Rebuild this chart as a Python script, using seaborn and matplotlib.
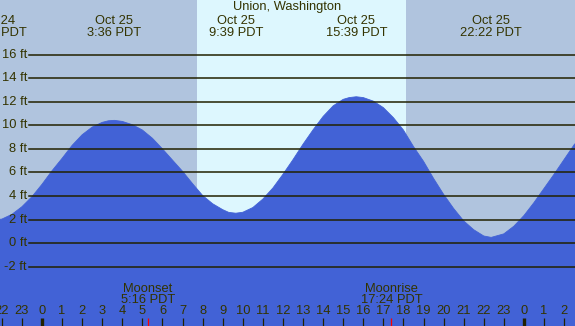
import matplotlib
matplotlib.use("Agg")
import matplotlib.pyplot as plt
import seaborn as sns
import pandas as pd

# ---- data ----
hours = [-3, -2.5, -2.3, -2, -1.5, -1, -0.5, 0, 0.5, 1, 1.5, 2, 2.5, 3, 3.3, 3.6,
         4, 4.5, 5, 5.5, 6, 6.5, 7, 7.5, 8, 8.5, 9, 9.3, 9.65,
         10, 10.5, 11, 11.5, 12, 12.5, 13, 13.5, 14, 14.5, 15, 15.3, 15.65,
         16, 16.5, 17, 17.5, 18, 18.5, 19, 19.5, 20, 20.5, 21, 21.5, 22, 22.37,
         23, 23.5, 24, 24.5, 25, 25.5, 26, 26.5, 27]
heights = [2.06, 2.01, 2.0, 2.05, 2.45, 3.1, 3.95, 5.0, 6.15, 7.2, 8.3, 9.2, 9.85, 10.25, 10.38, 10.42,
           10.33, 10.05, 9.6, 8.9, 8.0, 7.05, 6.1, 5.05, 4.05, 3.35, 2.85, 2.62, 2.55,
           2.63, 3.03, 3.75, 4.69, 5.85, 7.09, 8.4, 9.62, 10.75, 11.65, 12.2, 12.35, 12.42,
           12.35, 12.05, 11.5, 10.65, 9.6, 8.2, 6.95, 5.5, 4.15, 2.95, 1.9, 1.15, 0.62, 0.5,
           0.8, 1.45, 2.35, 3.45, 4.65, 5.85, 7.1, 8.35, 9.3]
extreme_hours = [-2.3, 3.6, 9.65, 15.65, 22.37]
extreme_labels = ["Oct 24\n21:42 PDT", "Oct 25\n3:36 PDT", "Oct 25\n9:39 PDT",
                  "Oct 25\n15:39 PDT", "Oct 25\n22:22 PDT"]
ft_levels = [-2, 0, 2, 4, 6, 8, 10, 12, 14, 16]
hour_ticks = list(range(-2, 27))
sunrise, sunset = 7.72, 18.13
moon_hours = [5.27, 17.4]
moon_labels = ["Moonset\n5:16 PDT", "Moonrise\n17:24 PDT"]
title = "Union, Washington"

df = pd.DataFrame({"hour": hours, "height": heights})

TXT = "#333300"
plt.rcParams["font.family"] = ["Liberation Sans", "DejaVu Sans"]
fig = plt.figure(figsize=(5.75, 3.26), dpi=100)
ax = fig.add_axes([0, 0, 1, 1])
ax.set_facecolor("#b0c4de")
x0, x1 = (0 - 42) / 20.08, (575 - 42) / 20.08
ax.set_xlim(x0, x1)
ax.set_ylim(-7.01, 20.62)
for s in ax.spines.values():
    s.set_visible(False)
ax.set_xticks([]); ax.set_yticks([])

ax.axvspan(sunrise, sunset, color="#ddf7fe", zorder=0, lw=0)
FILL = "#4262d6"
ax.fill_between(df["hour"], df["height"], -10, color=FILL, lw=0, zorder=1)
sns.lineplot(data=df, x="hour", y="height", ax=ax, color=FILL, lw=0.6, zorder=1)
ax.set_xlabel(""); ax.set_ylabel("")

# grid lines and labels
for v in ft_levels:
    ax.axhline(v, xmin=29 / 575, xmax=1, color="#222200", lw=1.1, zorder=2)
    ax.text(27 / 575, v, f"{v} ft", transform=ax.get_yaxis_transform(), ha="right",
            va="center", fontsize=9.3, color=TXT)

ax.text(0.5, 1 - 7 / 326, title, transform=ax.transAxes, ha="center", va="center",
        fontsize=9.3, color=TXT)
for h, lab in zip(extreme_hours, extreme_labels):
    ax.text(h, 1 - 27 / 326, lab, transform=ax.get_xaxis_transform(), ha="center",
            va="center", fontsize=9.3, color=TXT, linespacing=0.98)

# hour ticks
xt = ax.get_xaxis_transform()
for h in hour_ticks:
    ax.text(h, 1 - 311.5 / 326, str(h % 24), transform=xt, ha="center", va="center",
            fontsize=9.3, color=TXT)
    if h % 24 == 0:
        ax.plot([h, h], [0, 8 / 326], transform=xt, color="#222200", lw=2.4,
                solid_capstyle="butt", zorder=3)
    else:
        ax.plot([h, h], [0, 8 / 326], transform=xt, color="#222200", lw=0.9,
                solid_capstyle="butt", zorder=3)
for h, lab in zip(moon_hours, moon_labels):
    ax.plot([h, h], [0, 8 / 326], transform=xt, color="red", lw=0.9,
            solid_capstyle="butt", zorder=3)
    ax.text(h, 1 - 294.5 / 326, lab, transform=xt, ha="center", va="center",
            fontsize=9.3, color=TXT, linespacing=0.98)

fig.savefig("out.png", dpi=100)
